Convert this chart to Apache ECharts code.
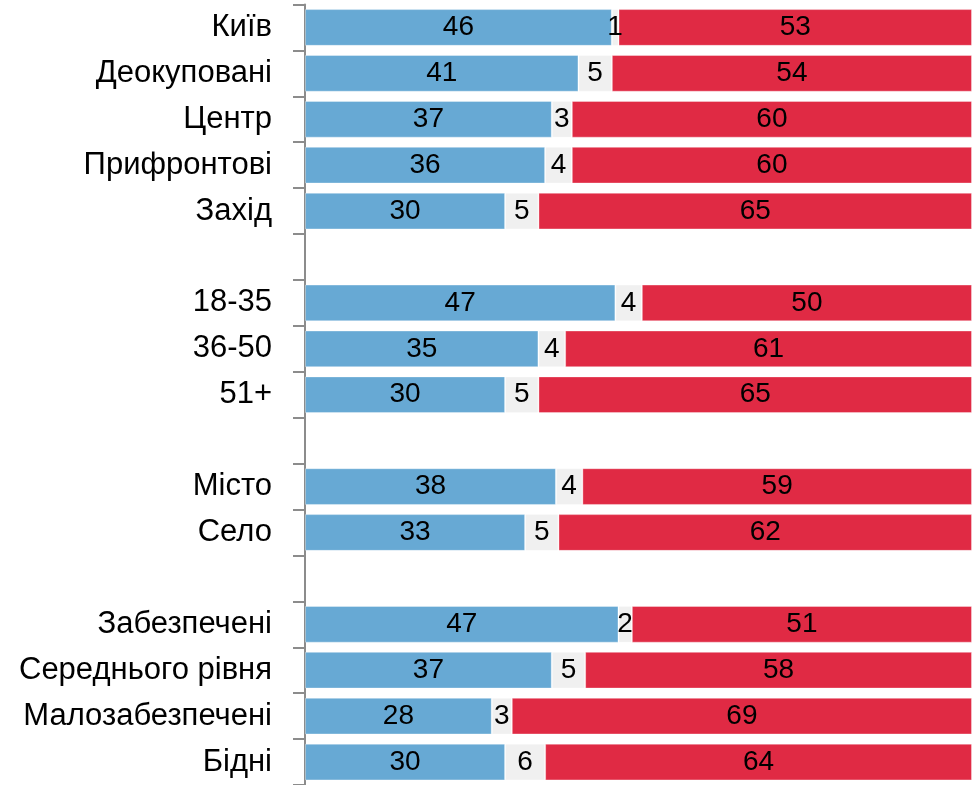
<!DOCTYPE html>
<html lang="uk">
<head>
    <meta charset="utf-8">
    <script src="https://cdn.jsdelivr.net/npm/echarts@6/dist/echarts.min.js"></script>
    <style>
        html,
        body {
            margin: 0;
            width: 100%;
            height: 100%;
            background: #fff;
            overflow: hidden;
        }

        #chart {
            width: 974px;
            height: 785px;
        }
    </style>
</head>
<body>
<div id="chart"></div>
<script>
    // рядки ('' = порожній рядок-розрив між групами)
    var categories = ['Київ', 'Деокуповані', 'Центр', 'Прифронтові', 'Захід', '',
        '18-35', '36-50', '51+', '',
        'Місто', 'Село', '',
        'Забезпечені', 'Середнього рівня', 'Малозабезпечені', 'Бідні'];
    var blueValues = [46, 41, 37, 36, 30, null, 47, 35, 30, null, 38, 33, null, 47, 37, 28, 30];
    var greyValues = [1, 5, 3, 4, 5, null, 4, 4, 5, null, 4, 5, null, 2, 5, 3, 6];
    var redValues = [53, 54, 60, 60, 65, null, 50, 61, 65, null, 59, 62, null, 51, 58, 69, 64];

    var labelFont = '"Liberation Sans", Arial, sans-serif';

    // кожен рядок нормується до 100%
    function share(values, i) {
        var v = values[i];
        if (v === null) return null;
        var sum = blueValues[i] + greyValues[i] + redValues[i];
        return v / sum * 100;
    }

    function makeSeries(values, color) {
        return {
            type: 'bar',
            stack: 'total',
            barWidth: '80%',
            data: values.map(function (v, i) {
                return {value: share(values, i), raw: v};
            }),
            itemStyle: {
                color: color,
                borderColor: 'rgba(255,255,255,0.35)',
                borderWidth: 1
            },
            label: {
                show: true,
                position: 'inside',
                color: '#000',
                fontFamily: labelFont,
                fontSize: 28,
                formatter: function (p) {
                    return p.data.raw === null ? '' : p.data.raw;
                }
            },
            emphasis: {disabled: true}
        };
    }

    var chart = echarts.init(document.getElementById('chart'));
    chart.setOption({
        animation: false,
        grid: {
            left: 305,
            top: 4.5,
            width: 667,
            height: 784
        },
        xAxis: {
            type: 'value',
            min: 0,
            max: 100,
            show: false
        },
        yAxis: {
            type: 'category',
            inverse: true,
            data: categories,
            axisLine: {
                show: true,
                lineStyle: {color: '#8c8c8c', width: 2}
            },
            axisTick: {
                show: true,
                length: 12,
                lineStyle: {color: '#8c8c8c', width: 2}
            },
            axisLabel: {
                margin: 33,
                color: '#000',
                fontFamily: labelFont,
                fontSize: 31
            }
        },
        series: [
            makeSeries(blueValues, '#67a9d4'),
            makeSeries(greyValues, '#f0f0f0'),
            makeSeries(redValues, '#e02a44')
        ]
    });
</script>
</body>
</html>
